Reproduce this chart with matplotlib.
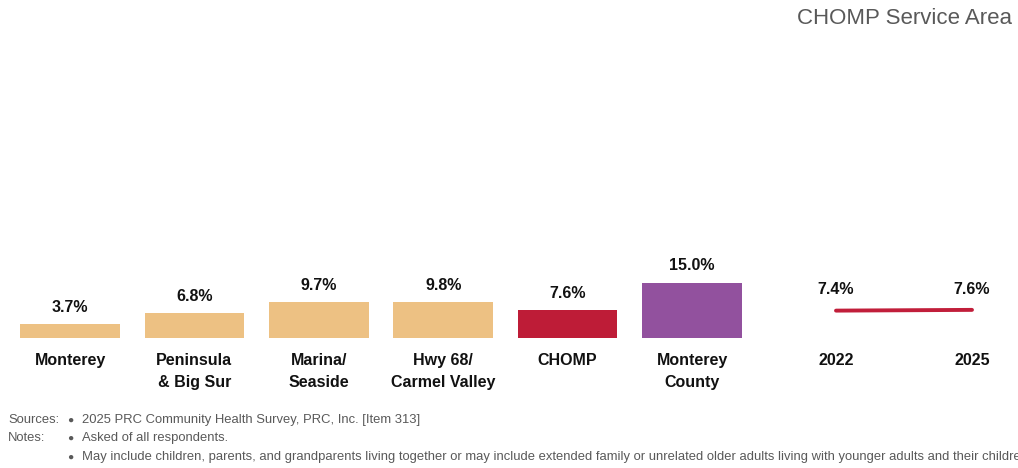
import matplotlib
matplotlib.use("Agg")
import matplotlib.pyplot as plt

# data
categories = ["Monterey", "Peninsula\n& Big Sur", "Marina/\nSeaside",
              "Hwy 68/\nCarmel Valley", "CHOMP", "Monterey\nCounty"]
values = [3.7, 6.8, 9.7, 9.8, 7.6, 15.0]
bar_colors = ["#EDC183", "#EDC183", "#EDC183", "#EDC183", "#BE1C37", "#92519E"]

years = ["2022", "2025"]
trend = [7.4, 7.6]

title = "CHOMP Service Area"
notes = [
    ("Sources:", "2025 PRC Community Health Survey, PRC, Inc. [Item 313]"),
    ("Notes:", "Asked of all respondents."),
    ("", "May include children, parents, and grandparents living together or may include "
         "extended family or unrelated older adults living with younger adults and their children."),
]

FONT = ["Liberation Sans", "DejaVu Sans"]
LBL = 11.5
DARK = "#111111"
GREY = "#595959"

W, H = 1018, 468
fig = plt.figure(figsize=(W / 100, H / 100), dpi=100)

base = 338          # baseline pixel from top
px_per = 3.7        # pixels per percentage point
ymax = 20
step = 124.4


def frac_rect(x0, width_px):
    return [x0 / W, (H - base) / H, width_px / W, ymax * px_per / H]


def clean(a):
    a.set_yticks([])
    for s in a.spines.values():
        s.set_visible(False)
    a.patch.set_alpha(0)


# bar chart
ax = fig.add_axes(frac_rect(70 - 0.5 * step, 6 * step))
x = range(len(values))
ax.bar(x, values, width=0.8, color=bar_colors)
ax.set_xlim(-0.5, 5.5)
ax.set_ylim(0, ymax)
for xi, v in zip(x, values):
    ax.annotate(f"{v:.1f}%", (xi, v), xytext=(0, 12), textcoords="offset points",
                ha="center", va="center", fontsize=LBL, fontweight="bold",
                family=FONT, color=DARK)
ax.set_xticks(list(x))
ax.set_xticklabels(categories, fontsize=LBL, fontweight="bold", family=FONT,
                   color=DARK, linespacing=1.55)
ax.tick_params(axis="x", length=0, pad=11)
clean(ax)

# trend line
unit = 136
lax = fig.add_axes(frac_rect(836 - 0.3 * unit, 1.6 * unit))
lx = range(len(trend))
lax.plot(lx, trend, color="#C11E3A", linewidth=2.8, solid_capstyle="round")
lax.set_xlim(-0.3, 1.3)
lax.set_ylim(0, ymax)
for xi, v in zip(lx, trend):
    lax.annotate(f"{v:.1f}%", (xi, v), xytext=(0, 15), textcoords="offset points",
                 ha="center", va="center", fontsize=LBL, fontweight="bold",
                 family=FONT, color=DARK)
lax.set_xticks(list(lx))
lax.set_xticklabels(years, fontsize=LBL, fontweight="bold", family=FONT, color=DARK)
lax.tick_params(axis="x", length=0, pad=11)
clean(lax)

# title
fig.text(1012 / W, 1 - 19 / H, title, ha="right", va="center", fontsize=16,
         family=FONT, color=GREY)

# footnotes
note_y = [420, 438, 457]
for (lab, txt), yy in zip(notes, note_y):
    if lab:
        fig.text(8 / W, 1 - yy / H, lab, ha="left", va="center", fontsize=9.4,
                 family=FONT, color=GREY)
    fig.text(70 / W, 1 - yy / H, "\u25cf", ha="center", va="center", fontsize=7.5,
             family=FONT, color=GREY)
    fig.text(82 / W, 1 - yy / H, txt, ha="left", va="center", fontsize=9.4,
             family=FONT, color=GREY)

fig.savefig("out.png", dpi=100)
